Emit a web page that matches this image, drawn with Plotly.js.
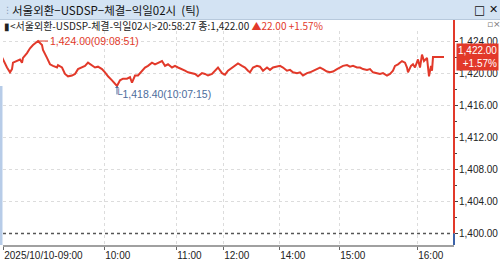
<!DOCTYPE html>
<html>
<head>
<meta charset="utf-8">
<script src="https://cdn.plot.ly/plotly-3.0.1.min.js"></script>
<style>
html,body{margin:0;padding:0;background:#fff;overflow:hidden;}
#chart{width:500px;height:263px;}
</style>
</head>
<body>
<div id="chart"></div>
<script>
// tick sequence positions (x) and traded price
const tickSeq = [0,3,7,10,12,13,17,20,22,23,27,30,33,37,38,42,43,47,50,53,57,58,62,65,68,72,75,78,82,85,88,92,95,98,102,105,108,112,115,117,120,123,127,130,132,135,138,142,145,148,152,155,158,162,165,168,172,175,178,182,185,188,192,195,198,202,205,208,212,215,218,222,225,228,232,235,238,242,245,248,250,253,257,260,263,267,270,273,277,280,283,287,290,293,297,300,303,307,310,313,317,320,323,327,330,333,337,340,343,347,350,353,357,360,363,367,370,373,377,380,383,387,390,393,395,398,402,405,407,408,411,413,415,418,420,422,424,427,429,431,432,433,444];
const price = [1422.5,1421.7,1420.7,1420.1,1420.5,1421.3,1421.5,1421.7,1421.3,1421.9,1422.5,1423.1,1423.5,1423.9,1424.0,1423.5,1422.9,1421.9,1421.1,1420.9,1420.7,1421.0,1420.7,1419.9,1419.6,1419.7,1419.9,1420.5,1420.7,1420.9,1421.3,1421.0,1420.7,1420.8,1420.5,1420.1,1419.6,1419.1,1418.7,1418.4,1419.1,1419.3,1419.3,1419.5,1418.8,1419.7,1419.7,1420.3,1420.7,1420.9,1421.3,1421.1,1421.3,1421.5,1420.9,1421.1,1420.7,1420.9,1420.7,1420.5,1420.3,1420.1,1420.0,1419.9,1419.6,1420.0,1419.9,1419.7,1419.9,1420.3,1420.7,1420.0,1419.8,1420.3,1420.7,1420.9,1421.2,1420.9,1420.7,1420.3,1420.1,1420.7,1420.9,1420.8,1420.3,1420.7,1420.4,1420.7,1420.8,1420.9,1420.7,1420.3,1420.4,1420.1,1420.0,1420.1,1419.7,1420.0,1420.1,1420.3,1420.5,1420.7,1420.5,1420.2,1420.1,1420.2,1420.5,1420.7,1420.9,1421.0,1420.8,1420.9,1420.7,1420.7,1420.5,1420.4,1420.5,1420.1,1420.0,1419.9,1420.0,1419.7,1419.9,1420.3,1420.9,1421.1,1421.5,1421.3,1420.7,1420.1,1420.9,1421.1,1420.7,1421.7,1420.7,1422.3,1421.5,1421.9,1419.6,1420.9,1420.3,1422.0,1422.0];
const timeTickPos = [3,104,176,223,279,339,417];
const timeTickText = ["2025/10/10-09:00","10:00","11:00","12:00","14:00","15:00","16:00"];
const priceTicks = [1400,1404,1408,1412,1416,1420,1424];
const highLabel = "1,424.00(09:08:51)";
const lowLabel = "1,418.40(10:07:15)";
const titleText = "서울외환−USDSP−체결−익일02시  (틱)";
const infoText = "<서울외환-USDSP-체결-익일02시>20:58:27 종:1,422.00 ";
const changeText = "▲22.00 +1.57%";
const lastPrice = 1422.00;
const lastPct = "+1.57%";
const baseLine = 1400;

const FONT = "'Liberation Sans',Arial,sans-serif";
const KFONT = "'Noto Sans CJK KR','Liberation Sans',sans-serif";
const RED = "#e2392a";
const BLUE = "#4d6d9c";

let hiIdx = 0, loIdx = 0;
price.forEach((v,i)=>{ if(v>price[hiIdx]) hiIdx=i; if(v<price[loIdx]) loIdx=i; });

const fmt = v => v.toLocaleString('en-US',{minimumFractionDigits:2,maximumFractionDigits:2});

const trace = {
  x: tickSeq, y: price, type:'scatter', mode:'lines',
  line:{color:RED, width:2}, hoverinfo:'skip'
};

// pixel -> paper helpers (plot area x 3..454, y 31..245)
const px = x => (x-3)/451;
const py = y => (245-y)/214;

const layout = {
  width:500, height:263,
  margin:{l:3, r:46, t:31, b:18, pad:0},
  paper_bgcolor:'#ffffff', plot_bgcolor:'#ffffff',
  showlegend:false,
  xaxis:{
    range:[3,454], fixedrange:true,
    tickmode:'array', tickvals:timeTickPos, ticktext:timeTickText,
    ticks:'outside', ticklen:3, tickcolor:'#666',
    ticklabelposition:'outside right',
    tickfont:{family:FONT, size:10, color:'#222'},
    showgrid:true, gridcolor:'#dcdcdc', griddash:'dot', gridwidth:1,
    showline:true, linecolor:'#a0a0a0', linewidth:1.5,
    zeroline:false
  },
  yaxis:{
    side:'right', range:[1398.57,1425.25], fixedrange:true,
    tickmode:'array', tickvals:priceTicks, ticktext:priceTicks.map(fmt),
    ticks:'outside', ticklen:3, tickcolor:'#444', ticklabelstandoff:-1,
    minor:{dtick:2, ticks:'outside', ticklen:2, tickcolor:'#444', showgrid:false},
    tickfont:{family:FONT, size:10, color:'#222'},
    showgrid:true, gridcolor:'#dcdcdc', griddash:'dot', gridwidth:1,
    showline:false, zeroline:false
  },
  shapes:[
    // title bar
    {type:'rect', xref:'paper', yref:'paper', x0:px(0), x1:px(500), y0:py(19), y1:py(0), fillcolor:'#d3e3f3', line:{width:0}, layer:'below'},
    {type:'line', xref:'paper', yref:'paper', x0:px(0), x1:px(500), y0:py(19.5), y1:py(19.5), line:{color:'#b7c9dc', width:1}},
    // left stripe
    {type:'rect', xref:'paper', yref:'paper', x0:px(0), x1:px(2.5), y0:py(245), y1:py(86), fillcolor:'#b7cce8', line:{width:0}},
    // base line 1400
    {type:'line', xref:'paper', yref:'y', x0:0, x1:1, y0:baseLine, y1:baseLine, line:{color:'#555', width:1.5, dash:'dot'}},
    // right axis line red / blue
    {type:'line', xref:'paper', yref:'paper', x0:1, x1:1, y0:py(233.5), y1:py(20), line:{color:RED, width:2}},
    {type:'line', xref:'paper', yref:'paper', x0:1, x1:1, y0:0, y1:py(233.5), line:{color:'#3b62a8', width:2}}
  ],
  annotations:[
    {xref:'paper', yref:'paper', x:px(1), y:py(10), xanchor:'left', yanchor:'middle', showarrow:false,
     text:'⋮', font:{family:'DejaVu Sans', size:9, color:'#8aa0b8'}},
    {xref:'paper', yref:'paper', x:px(10), y:py(10), xanchor:'left', yanchor:'middle', showarrow:false,
     text:titleText, font:{family:KFONT, size:11.5, color:'#111'}},
    {xref:'paper', yref:'paper', x:px(472), y:py(10), xanchor:'left', yanchor:'middle', showarrow:false,
     text:'□', font:{family:'DejaVu Sans', size:12, color:'#111'}},
    {xref:'paper', yref:'paper', x:px(487), y:py(10), xanchor:'left', yanchor:'middle', showarrow:false,
     text:'✕', font:{family:'DejaVu Sans', size:11, color:'#111'}},
    {xref:'paper', yref:'paper', x:px(2), y:py(25.5), xanchor:'left', yanchor:'middle', showarrow:false,
     text:'▮'+infoText.replace(/</g,'&lt;').replace(/>/g,'&gt;')+'<span style="color:'+RED+'">'+changeText+'</span>',
     font:{family:KFONT, size:10, color:'#222'}},
    {xref:'paper', yref:'paper', x:px(485), y:py(24.5), xanchor:'left', yanchor:'middle', showarrow:false,
     text:'▫×', font:{family:'DejaVu Sans', size:9, color:'#777'}},
    // high marker
    {x:tickSeq[hiIdx], y:price[hiIdx], xref:'x', yref:'y', text:highLabel, showarrow:true, arrowhead:0,
     arrowwidth:1, arrowcolor:RED, ax:10, ay:0, xanchor:'left', yanchor:'middle',
     font:{family:FONT, size:10.5, color:RED}},
    // low marker
    {x:tickSeq[loIdx], y:price[loIdx], xref:'x', yref:'y', text:'', showarrow:true, arrowhead:1, arrowsize:0.7,
     arrowwidth:1, arrowcolor:BLUE, ax:0, ay:10},
    {x:tickSeq[loIdx], y:price[loIdx], xref:'x', yref:'y', text:'└'+lowLabel, showarrow:false,
     xanchor:'left', yanchor:'middle', xshift:-4, yshift:-8,
     font:{family:FONT, size:10.5, color:BLUE}},
    // last price label
    {xref:'paper', yref:'y', x:1+2/451, y:lastPrice, xanchor:'left', yanchor:'middle', showarrow:false,
     text:fmt(lastPrice)+'<br>'+lastPct, align:'right', bgcolor:RED, borderpad:1,
     font:{family:FONT, size:10, color:'#ffffff'}}
  ]
};

Plotly.newPlot('chart',[trace],layout,{staticPlot:true, displayModeBar:false});
</script>
</body>
</html>
